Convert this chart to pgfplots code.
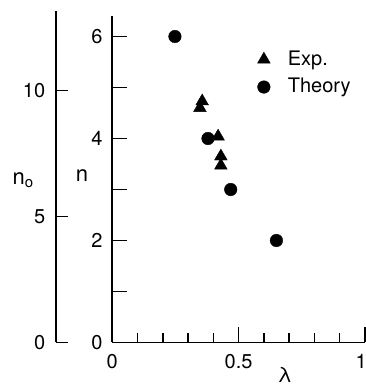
\documentclass[border=0pt]{standalone}
\usepackage{pgfplots}
\pgfplotsset{compat=1.18}
\usepackage{fontspec}
\setmainfont{TeX Gyre Heros}
\begin{document}
\fontsize{20}{24}\selectfont
\begin{tikzpicture}[x=1pt,y=1pt]
\useasboundingbox (0,0) rectangle (365,386);
\pgfplotsset{
  every axis/.append style={
    /pgf/number format/assume math mode=true,
    tick align=inside,
    axis line style={line width=1.8pt},
    every tick/.style={black, line width=1.4pt},
    tick label style={font=\fontsize{20}{24}\selectfont},
    clip=false,
  }
}
% outer axis n_o
\begin{axis}[
  at={(56pt,43.5pt)}, anchor=south west,
  scale only axis, width=10pt, height=331.4pt,
  xmin=0, xmax=1, ymin=0, ymax=13.15,
  axis y line*=left, axis x line=none,
  ytick={0,5,10},
  major tick length=12pt,
  yticklabel style={xshift=-4pt},
]
\addplot[draw=none] coordinates {(0,0)};
\node at (rel axis cs:-3.3,0.49) {\fontsize{22}{26}\selectfont n\raisebox{-0.3ex}{\fontsize{15}{18}\selectfont o}};
\end{axis}
% inner axis n vs lambda
\begin{axis}[
  at={(112.3pt,43.5pt)}, anchor=south west,
  scale only axis, width=252.5pt, height=326.4pt,
  xmin=0, xmax=1, ymin=0, ymax=6.4,
  axis x line*=bottom, axis y line*=left,
  xtick={0,0.5,1}, xticklabels={0,0.5,\makebox[0pt]{\hspace{-7pt}1}},
  minor xtick={0.1,0.2,0.3,0.4,0.6,0.7,0.8,0.9},
  ytick={0,1,2,3,4,5,6}, yticklabels={0,,2,,4,,6},
  major tick length=15pt, minor tick length=9pt,
  xticklabel style={yshift=-5pt},
  yticklabel style={xshift=-3pt},
  legend style={at={(rel axis cs:0.556,0.907)}, anchor=north west, draw=none, fill=none,
    font=\fontsize{20}{24}\selectfont, row sep=6pt},
  legend cell align=left,
  legend image code/.code={
    \draw[#1] plot coordinates {(0pt,0pt)};
    \path[draw=none,fill=none] (-8pt,-6pt) rectangle (22pt,6pt);
  },
]
\addplot[only marks, mark=triangle*, mark size=7.3pt, black] coordinates {
  (0.356,4.73) (0.347,4.60) (0.419,4.04) (0.430,3.65) (0.430,3.47)
};
\addlegendentry{Exp.}
\addplot[only marks, mark=*, mark size=6.3pt, black] coordinates {
  (0.248,6) (0.379,4) (0.469,3) (0.650,2)
};
\addlegendentry{Theory}
\node at (rel axis cs:-0.12,0.51) {\fontsize{22}{26}\selectfont n};
\node at (rel axis cs:0.683,-0.098) {\fontsize{21}{25}\selectfont λ};
\end{axis}
\end{tikzpicture}
\end{document}
